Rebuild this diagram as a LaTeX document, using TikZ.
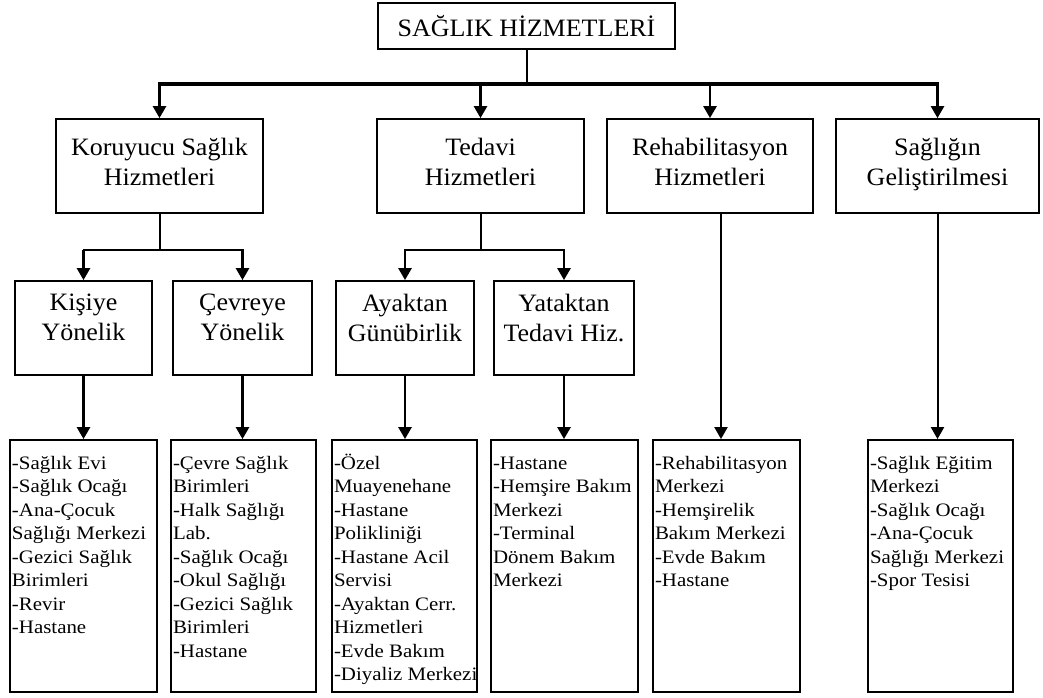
\documentclass[tikz,border=0pt]{standalone}
\usepackage{fontspec}
\setmainfont{Liberation Serif}
\newfontfamily\lfnt[FakeStretch=1.1]{Liberation Serif}
\newfontfamily\bfnt[FakeStretch=1.04]{Liberation Serif}
\usetikzlibrary{arrows.meta}
\newcommand{\lowpad}[1]{\rule[-#1]{0pt}{#1}}
\newcommand{\blst}[2]{\parbox[c][252pt][t]{#1}{\lfnt\fontsize{19}{23.5}\selectfont\noindent\rule{0pt}{29pt}\begin{tabular}[t]{@{}l@{}}#2\end{tabular}}}
\begin{document}
\begin{tikzpicture}[x=1pt,y=-1pt,
  box/.style={draw, line width=1.8pt, align=center, inner sep=0pt,
    font=\bfnt\fontsize{25}{30}\selectfont},
  lvtwo/.style={box, minimum height=94pt},
  lvthree/.style={box, minimum height=94pt},
  lbox/.style={draw, line width=1.8pt, inner xsep=2pt, inner ysep=0pt, minimum height=252pt},
  arr/.style={line width=2.6pt, -{Triangle[width=13pt,length=12pt]}},
  thinarr/.style={line width=2pt, -{Triangle[width=13pt,length=12pt]}},
  ln/.style={line width=2pt},
  bus/.style={line width=3.5pt, line cap=rect}]
\useasboundingbox (0,0) rectangle (1043,698);

% level 1
\node[box, minimum width=297pt, minimum height=46pt] (top) at (526.5,26) {SAĞLIK HİZMETLERİ};

% level 2
\node[lvtwo, minimum width=207pt] (k) at (159.5,166) {Koruyucu Sağlık\\Hizmetleri\lowpad{8pt}};
\node[lvtwo, minimum width=207pt] (t) at (480.5,166) {Tedavi\\Hizmetleri\lowpad{8pt}};
\node[lvtwo, minimum width=206pt] (r) at (710,166) {Rehabilitasyon\\Hizmetleri\lowpad{8pt}};
\node[lvtwo, minimum width=203pt] (s) at (937.5,166) {Sağlığın\\Geliştirilmesi\lowpad{8pt}};

% level 3
\node[lvthree, minimum width=137pt] (kis) at (83.5,328) {Kişiye\\Yönelik\lowpad{21pt}};
\node[lvthree, minimum width=139pt] (cev) at (242.5,328) {Çevreye\\Yönelik\lowpad{21pt}};
\node[lvthree, minimum width=138pt] (ayk) at (405,328) {Ayaktan\\Günübirlik\lowpad{21pt}};
\node[lvthree, minimum width=140pt] (yat) at (564,328) {Yataktan\\Tedavi Hiz.\lowpad{21pt}};

% bottom lists
\node[lbox, minimum width=147pt] (b1) at (83.5,566) {\blst{143pt}{-Sağlık Evi\\-Sağlık Ocağı\\-Ana-Çocuk\\Sağlığı Merkezi\\-Gezici Sağlık\\Birimleri\\-Revir\\-Hastane}};
\node[lbox, minimum width=145pt] (b2) at (243.5,566) {\blst{141pt}{-Çevre Sağlık\\Birimleri\\-Halk Sağlığı\\Lab.\\-Sağlık Ocağı\\-Okul Sağlığı\\-Gezici Sağlık\\Birimleri\\-Hastane}};
\node[lbox, minimum width=145pt] (b3) at (404.5,566) {\blst{141pt}{-Özel\\Muayenehane\\-Hastane\\Polikliniği\\-Hastane Acil\\Servisi\\-Ayaktan Cerr.\\Hizmetleri\\-Evde Bakım\\-Diyaliz Merkezi}};
\node[lbox, minimum width=147pt] (b4) at (564.5,566) {\blst{143pt}{-Hastane\\-Hemşire Bakım\\Merkezi\\-Terminal\\Dönem Bakım\\Merkezi}};
\node[lbox, minimum width=147pt] (b5) at (726.5,566) {\blst{143pt}{-Rehabilitasyon\\Merkezi\\-Hemşirelik\\Bakım Merkezi\\-Evde Bakım\\-Hastane}};
\node[lbox, minimum width=145pt] (b6) at (940.5,566) {\blst{141pt}{-Sağlık Eğitim\\Merkezi\\-Sağlık Ocağı\\-Ana-Çocuk\\Sağlığı Merkezi\\-Spor Tesisi}};

% connectors level 1 -> 2
\coordinate (busy) at (0,84);
\draw[ln] (top.south) -- (top.south |- busy);
\draw[bus] (k.north |- busy) -- (s.north |- busy);
\draw[arr] (k.north |- busy) -- (k.north);
\draw[arr] (t.north |- busy) -- (t.north);
\draw[arr] (r.north |- busy) -- (r.north);
\draw[arr] (s.north |- busy) -- (s.north);

% level 2 -> 3
\coordinate (juny) at (0,250);
\draw[ln] (k.south) -- (k.south |- juny);
\draw[ln, line cap=rect] (kis.north |- juny) -- (cev.north |- juny);
\draw[arr] (kis.north |- juny) -- (kis.north);
\draw[arr] (cev.north |- juny) -- (cev.north);
\draw[ln] (t.south) -- (t.south |- juny);
\draw[ln, line cap=rect] (ayk.north |- juny) -- (yat.north |- juny);
\draw[arr] (ayk.north |- juny) -- (ayk.north);
\draw[arr] (yat.north |- juny) -- (yat.north);

% level 3 -> lists
\draw[arr] (kis.south) -- (kis.south |- b1.north);
\draw[arr] (cev.south) -- (cev.south |- b2.north);
\draw[arr] (ayk.south) -- (ayk.south |- b3.north);
\draw[arr] (yat.south) -- (yat.south |- b4.north);
\coordinate (rx) at (721,0);
\draw[thinarr] (r.south -| rx) -- (b5.north -| rx);
\draw[thinarr] (s.south) -- (s.south |- b6.north);
\end{tikzpicture}
\end{document}
